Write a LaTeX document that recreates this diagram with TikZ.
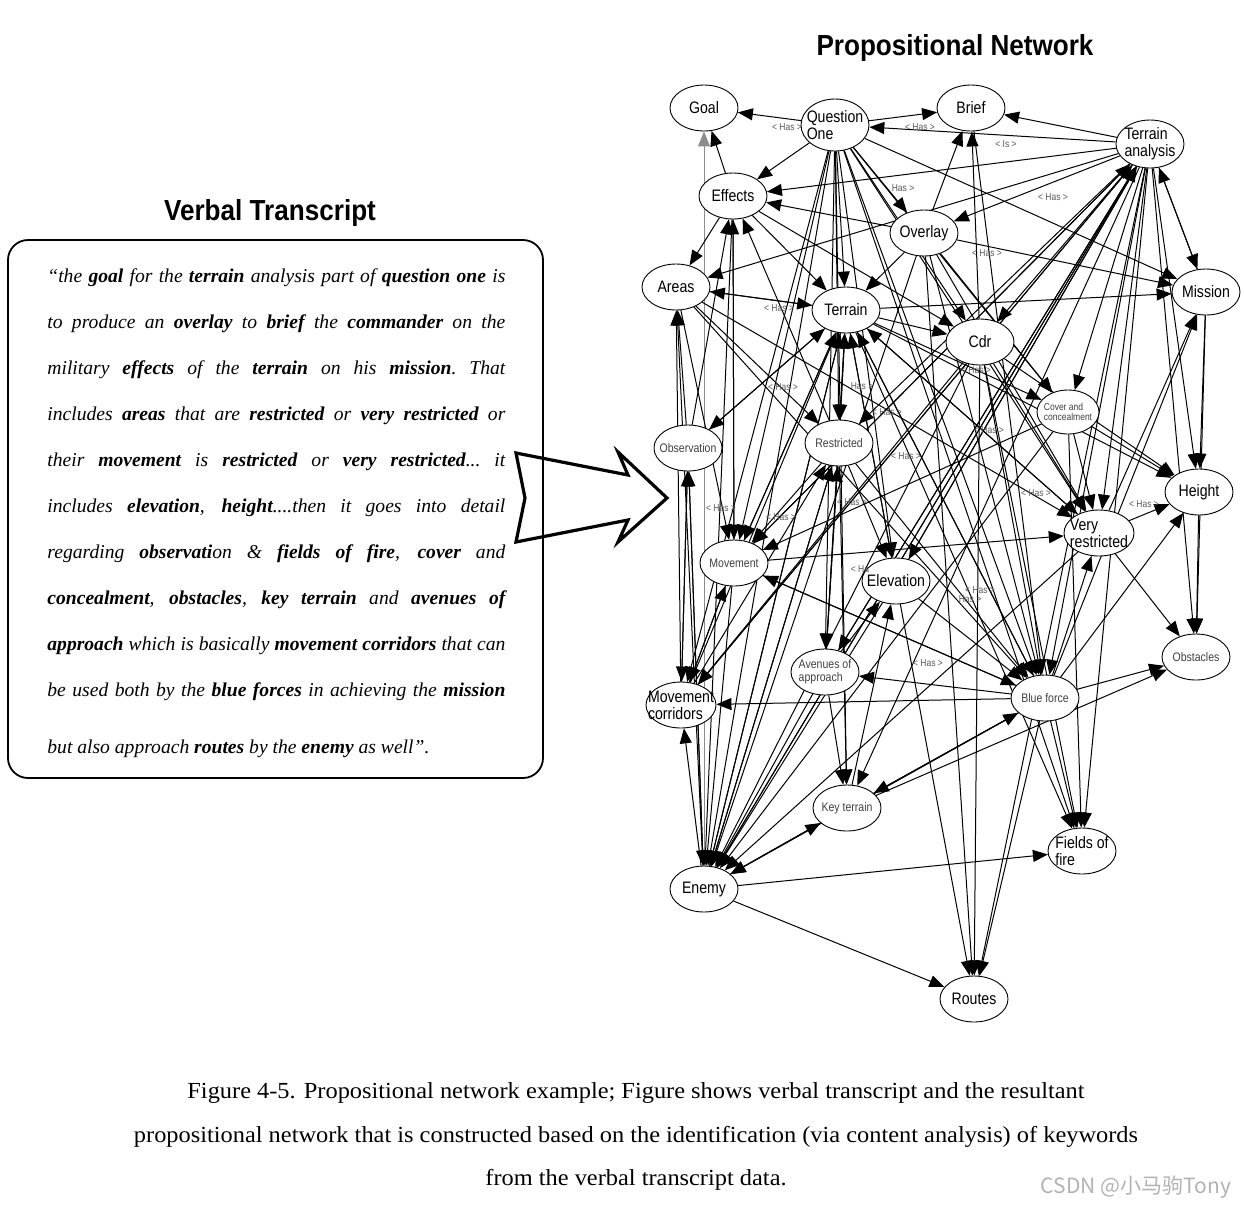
\documentclass[tikz,border=0pt]{standalone}
\usepackage{fontspec}
\setmainfont{Liberation Serif}
\newfontfamily\nfont[FakeStretch=0.85]{Liberation Sans}
\newfontfamily\tfont[FakeStretch=0.9]{Liberation Sans}
\newfontfamily\capfont[FakeStretch=1.06]{Liberation Serif}
\newfontfamily\cjkfont{Noto Sans CJK SC}
\usetikzlibrary{shapes.geometric,arrows.meta}
\pgfdeclarelayer{bg}
\pgfsetlayers{bg,main}
\tikzset{
  nd/.style={ellipse, draw, fill=white, line width=0.45pt, minimum width=34pt, minimum height=23pt, inner sep=0pt},
  biglab/.style={font=\nfont\fontsize{8.3}{8.6}\selectfont, align=left, inner sep=0pt},
  smllab/.style={font=\nfont\fontsize{6.2}{6.6}\selectfont, text=black!75, align=left, inner sep=0pt},
  tinylab/.style={font=\nfont\fontsize{5}{5.4}\selectfont, text=black!75, align=left, inner sep=0pt},
  elab/.style={font=\nfont\fontsize{5}{5}\selectfont, text=black!65, inner sep=0pt},
  conn/.style={line width=0.5pt, -{Triangle[length=7.5pt,width=6pt]}},
  tline/.style={anchor=base west, inner sep=0pt, font=\fontsize{9.8}{12}\selectfont\itshape},
  captxt/.style={anchor=base, inner sep=0pt, font=\capfont\fontsize{11.5}{13}\selectfont}
}
\begin{document}
\begin{tikzpicture}[x=0.5pt,y=-0.5pt]
\useasboundingbox (0,0) rectangle (1244,1206);
% titles
\node[font=\tfont\bfseries\fontsize{14.5}{16}\selectfont] (t1) at (955,48) {Propositional Network};
\node[font=\tfont\bfseries\fontsize{14.5}{16}\selectfont] (t2) at (270,213) {Verbal Transcript};
% transcript box
\draw[line width=0.9pt, rounded corners=10pt] (8,240) rectangle (543,778);
\node[tline] (l1) at (47,282) {\makebox[229pt][s]{“the \textbf{goal} for the \textbf{terrain} analysis part of \textbf{question one} is}};
\node[tline] (l2) at (47,328) {\makebox[229pt][s]{to produce an \textbf{overlay} to \textbf{brief} the \textbf{commander} on the}};
\node[tline] (l3) at (47,374) {\makebox[229pt][s]{military \textbf{effects} of the \textbf{terrain} on his \textbf{mission}.\ That}};
\node[tline] (l4) at (47,420) {\makebox[229pt][s]{includes \textbf{areas} that are \textbf{restricted} or \textbf{very restricted} or}};
\node[tline] (l5) at (47,466) {\makebox[229pt][s]{their \textbf{movement} is \textbf{restricted} or \textbf{very restricted}...\ it}};
\node[tline] (l6) at (47,512) {\makebox[229pt][s]{includes \textbf{elevation}, \textbf{height}....then it goes into detail}};
\node[tline] (l7) at (47,558) {\makebox[229pt][s]{regarding \textbf{observati}on \& \textbf{fields of fire}, \textbf{cover} and}};
\node[tline] (l8) at (47,604) {\makebox[229pt][s]{\textbf{concealment}, \textbf{obstacles}, \textbf{key terrain} and \textbf{avenues of}}};
\node[tline] (l9) at (47,650) {\makebox[229pt][s]{\textbf{approach} which is basically \textbf{movement corridors} that can}};
\node[tline] (l10) at (47,696) {\makebox[229pt][s]{be used both by the \textbf{blue forces} in achieving the \textbf{mission}}};
\node[tline] (l11) at (47,753) {but also approach \textbf{routes} by the \textbf{enemy} as well”.};
% callout arrow
\draw[line width=1.6pt, line join=miter] (516,453) -- (628,475) -- (618,452) -- (667,498) -- (618,542) -- (628,520) -- (516,542) -- (525,498) -- cycle;
% nodes
\node[nd, label={[biglab]center:Goal}] (goal) at (704,108) {};
\node[nd, minimum height=26pt, label={[biglab]center:Question\\One}] (qone) at (835,125) {};
\node[nd, label={[biglab]center:Brief}] (brief) at (971,108) {};
\node[nd, minimum height=24pt, label={[biglab]center:Terrain\\analysis}] (tana) at (1150,144) {};
\node[nd, label={[biglab]center:Effects}] (eff) at (733,196) {};
\node[nd, label={[biglab]center:Overlay}] (ovl) at (924,233) {};
\node[nd, label={[biglab]center:Areas}] (areas) at (676,287) {};
\node[nd, label={[biglab]center:Terrain}] (ter) at (846,310) {};
\node[nd, label={[biglab]center:Mission}] (miss) at (1206,292) {};
\node[nd, label={[biglab]center:Cdr}] (cdr) at (980,342) {};
\node[nd, minimum width=31pt, minimum height=22pt, label={[tinylab]center:Cover and\\concealment}] (cov) at (1068,412) {};
\node[nd, label={[smllab]center:Observation}] (obs) at (688,448) {};
\node[nd, label={[smllab]center:Restricted}] (res) at (839,443) {};
\node[nd, label={[biglab]center:Height}] (hgt) at (1199,492) {};
\node[nd, minimum width=35pt, label={[biglab]center:Very\\restricted}] (vres) at (1099,533) {};
\node[nd, label={[smllab]center:Movement}] (mov) at (734,563) {};
\node[nd, label={[biglab]center:Elevation}] (elev) at (896,581) {};
\node[nd, label={[smllab]center:Obstacles}] (obst) at (1196,657) {};
\node[nd, label={[smllab]center:Avenues of\\approach}] (ave) at (825,672) {};
\node[nd, minimum width=35pt, label={[biglab]center:Movement\\corridors}] (mcor) at (681,705) {};
\node[nd, label={[smllab]center:Blue force}] (blue) at (1045,698) {};
\node[nd, label={[smllab]center:Key terrain}] (key) at (847,808) {};
\node[nd, label={[biglab]center:Fields of\\fire}] (fof) at (1082,851) {};
\node[nd, label={[biglab]center:Enemy}] (enemy) at (704,889) {};
\node[nd, label={[biglab]center:Routes}] (routes) at (974,999) {};
% connectors
\begin{pgfonlayer}{bg}
\draw[conn, draw=black!45] (enemy) -- (goal);
\foreach \a/\b in {qone/goal, qone/brief, tana/qone, tana/brief, tana/eff, eff/goal, eff/areas, qone/eff, qone/ter, qone/ovl, ovl/eff, ovl/brief, tana/ovl, tana/areas, tana/miss, miss/tana, ter/areas, areas/ter, ter/cdr, ter/miss, ovl/miss, qone/miss, cdr/brief, eff/ter, res/eff, mov/eff, ovl/ter, tana/cdr, tana/cov, tana/hgt, tana/vres, tana/blue, tana/fof, tana/elev, tana/res, tana/obst, tana/enemy, tana/mcor, tana/mov, qone/cdr, qone/cov, qone/blue, qone/enemy, qone/mcor, qone/mov, qone/res, qone/elev, vres/miss, blue/miss, ave/tana, mcor/tana, elev/tana, mov/tana, enemy/tana,
obs/areas, mcor/areas, areas/res, areas/vres, ter/res, res/ter, ter/mov, res/mov, res/ave, ave/res, mcor/res, enemy/res, mov/vres, mov/mcor, mcor/mov, obs/mcor, mcor/obs, enemy/obs, blue/mov, blue/ave, blue/mcor, blue/obst, blue/hgt, blue/key, key/blue, key/obst, enemy/fof, enemy/routes, enemy/key, key/enemy, enemy/mcor, ter/enemy, res/enemy, elev/enemy, ave/enemy, mov/enemy, cdr/enemy, blue/enemy, vres/enemy, blue/routes, blue/fof, cdr/routes, ovl/routes, cov/hgt, cov/vres, vres/obst, blue/vres, hgt/obst, miss/hgt, ter/elev, res/elev, ave/elev, key/elev, ter/cov, cov/fof, ter/obs, mov/ter, obs/ter, mcor/ter, enemy/ter, ave/ter, blue/ter, vres/ter, elev/ter, ter/blue, cdr/blue, elev/blue, ovl/blue, ter/vres, cdr/vres, res/key, ave/key, areas/mov, eff/mov, obs/eff, qone/vres, ovl/cov, areas/blue, eff/cdr,
tana/key, tana/ave, qone/key, qone/ave, ovl/enemy, cdr/fof, cov/enemy, eff/enemy, areas/enemy, obs/enemy, brief/blue, ter/fof, ter/hgt, cdr/hgt, ovl/vres, qone/fof, tana/routes, elev/routes, res/blue, mov/blue, cov/mov, cdr/mcor, miss/obst, vres/hgt}
  {\draw[conn] (\a) -- (\b);}
\end{pgfonlayer}
% connector labels
\node[elab] (h1) at (787,127) {< Has >};
\node[elab] (h2) at (920,127) {< Has >};
\node[elab] (h3) at (1006,144) {< Is >};
\node[elab] (h4) at (903,188) {Has >};
\node[elab] (h5) at (1053,197) {< Has >};
\node[elab] (h6) at (987,253) {< Has >};
\node[elab] (h7) at (779,308) {< Has >};
\node[elab] (h8) at (976,370) {< Has >};
\node[elab] (h9) at (783,387) {< Has >};
\node[elab] (h10) at (862,386) {Has >};
\node[elab] (h11) at (887,412) {< Has >};
\node[elab] (h12) at (989,430) {< Has >};
\node[elab] (h13) at (906,456) {< Has >};
\node[elab] (h14) at (1036,493) {< Has >};
\node[elab] (h15) at (1144,504) {< Has >};
\node[elab] (h16) at (721,508) {< Has >};
\node[elab] (h17) at (781,517) {< Has >};
\node[elab] (h18) at (852,502) {< Has >};
\node[elab] (h19) at (860,569) {< Ha};
\node[elab] (h20) at (980,590) {< Has >};
\node[elab] (h21) at (970,599) {Has >};
\node[elab] (h22) at (928,663) {< Has >};
% caption
\node[captxt] (c1) at (636,1098) {Figure 4-5. Propositional network example; Figure shows verbal transcript and the resultant};
\node[captxt] (c2) at (636,1142) {propositional network that is constructed based on the identification (via content analysis) of keywords};
\node[captxt] (c3) at (636,1185) {from the verbal transcript data.};
\node[font=\cjkfont\fontsize{10.5}{12}\selectfont, text=black!30] (wm) at (1136,1187) {CSDN @小马驹Tony};
\end{tikzpicture}
\end{document}
